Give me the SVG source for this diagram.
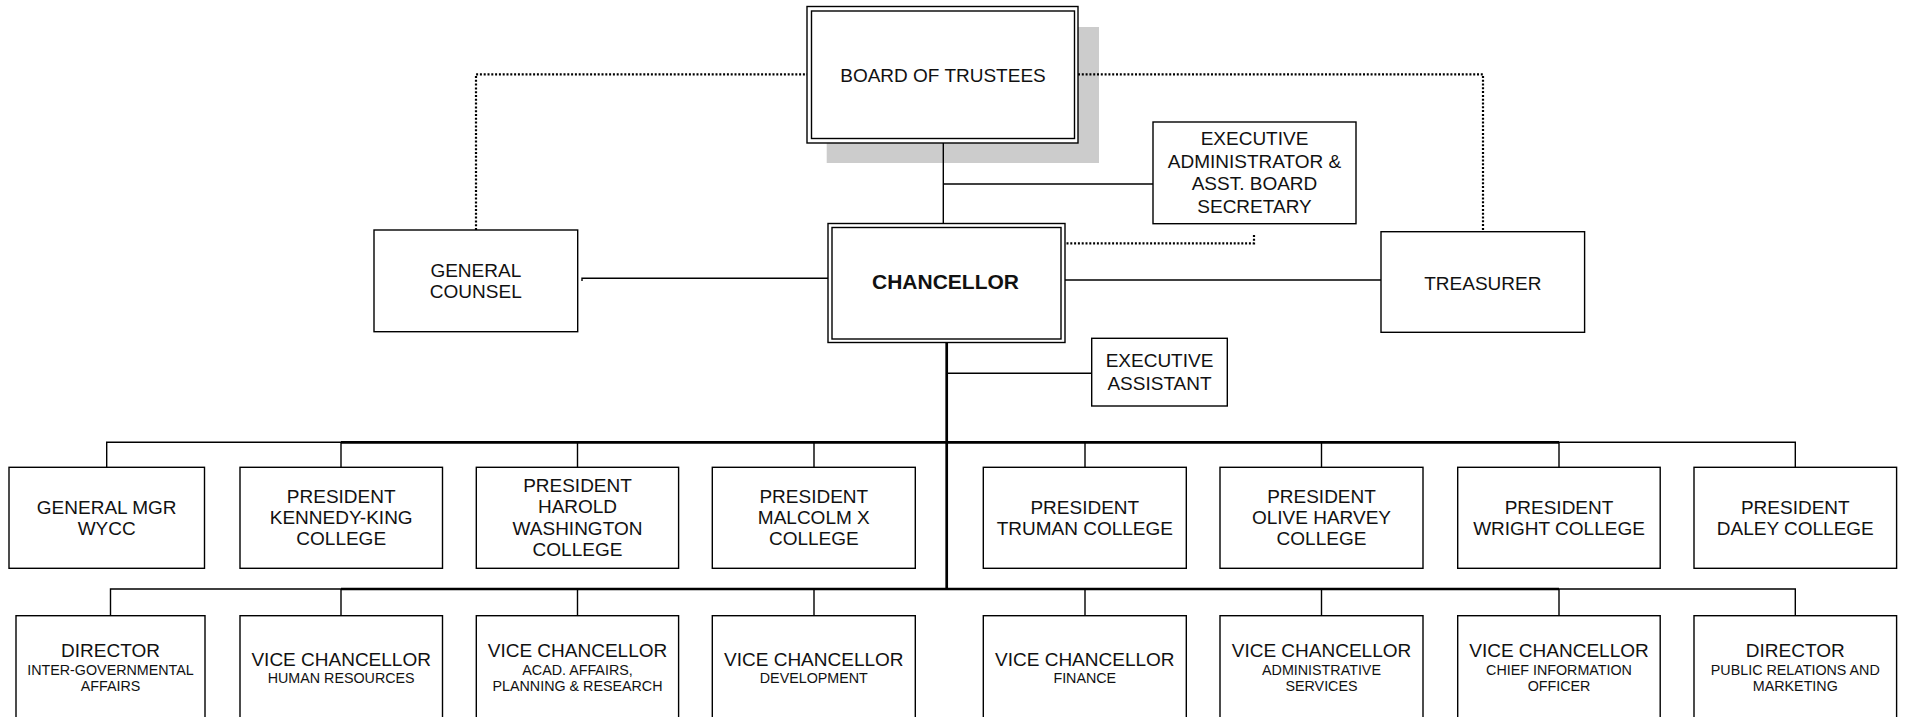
<svg xmlns="http://www.w3.org/2000/svg" width="1905" height="717" viewBox="0 0 1905 717">
<style>
.box{fill:#fff;stroke:#000;stroke-width:1.4}
.t{font-family:"Liberation Sans",Arial,sans-serif;font-size:19px;fill:#111;text-anchor:middle}
.s{font-size:14.3px}
.b{font-weight:bold;font-size:21px}
.c{fill:none;stroke:#000;stroke-width:1.4}
.thick{stroke-width:2.7}
.dot{stroke-width:2.2;stroke-dasharray:2 1.8}
.shadow{fill:#cccccc}
</style>
<rect width="1905" height="717" fill="#fff"/>
<g id="board-shadow">
  <rect class="shadow" x="826.7" y="27" width="272.3" height="136"/>
</g>
<g id="connectors">
  <path class="c dot" d="M476,230 V74.3 H807"/>
  <path class="c dot" d="M1078,74.3 H1483 V231"/>
  <path class="c dot" d="M1254,235 V243.3 H1065"/>
  <path class="c" d="M943.3,138 V223"/>
  <path class="c" d="M943.3,184 H1153"/>
  <path class="c" d="M582,281 V278.3 H828"/>
  <path class="c" d="M1065,280 H1381"/>
  <path class="c thick" d="M946.7,343 V589"/>
  <path class="c" d="M946.7,373.3 H1091.7"/>
  <path class="c" d="M106.7,467.3 V442.3 H1795.3 V467.3"/>
  <path class="c thick" d="M341,442.3 H1559"/>
  <path class="c" d="M341,442.3 V467.3 M577.5,442.3 V467.3 M814,442.3 V467.3 M1085,442.3 V467.3 M1321.5,442.3 V467.3 M1559,442.3 V467.3"/>
  <path class="c" d="M110.5,615.7 V589 H1795.3 V615.7"/>
  <path class="c thick" d="M341,589 H1559"/>
  <path class="c" d="M341,589 V615.7 M577.5,589 V615.7 M814,589 V615.7 M1085,589 V615.7 M1321.5,589 V615.7 M1559,589 V615.7"/>
</g>
<g id="board">
  <rect class="box" x="807" y="6.5" width="271" height="136.5"/>
  <rect class="box" x="811.5" y="11" width="263" height="127.5"/>
  <text class="t" x="943" y="81.7">BOARD OF TRUSTEES</text>
</g>
<g id="chancellor">
  <rect class="box" x="828" y="223.5" width="237" height="119"/>
  <rect class="box" x="832" y="227.5" width="229" height="111.5"/>
  <text class="t b" x="945.5" y="289">CHANCELLOR</text>
</g>
<g id="general-counsel">
  <rect class="box" x="374" y="230" width="203.7" height="101.7"/>
  <text class="t" x="475.8" y="276.7">GENERAL</text>
  <text class="t" x="475.8" y="298.3">COUNSEL</text>
</g>
<g id="exec-admin">
  <rect class="box" x="1153" y="122" width="203" height="101.7"/>
  <text class="t" x="1254.5" y="145">EXECUTIVE</text>
  <text class="t" x="1254.5" y="167.7">ADMINISTRATOR &amp;</text>
  <text class="t" x="1254.5" y="190.3">ASST. BOARD</text>
  <text class="t" x="1254.5" y="212.8">SECRETARY</text>
</g>
<g id="treasurer">
  <rect class="box" x="1381" y="231.7" width="203.6" height="100.6"/>
  <text class="t" x="1482.8" y="290">TREASURER</text>
</g>
<g id="exec-assistant">
  <rect class="box" x="1091.7" y="338.3" width="135.6" height="67.7"/>
  <text class="t" x="1159.5" y="367.3">EXECUTIVE</text>
  <text class="t" x="1159.5" y="390">ASSISTANT</text>
</g>
<g id="wycc">
  <rect class="box" x="9" y="467.3" width="195.5" height="101"/>
  <text class="t" x="106.7" y="513.5">GENERAL MGR</text>
  <text class="t" x="106.7" y="534.5">WYCC</text>
</g>
<g id="kennedy-king">
  <rect class="box" x="240" y="467.3" width="202.5" height="101"/>
  <text class="t" x="341.2" y="502.5">PRESIDENT</text>
  <text class="t" x="341.2" y="523.5">KENNEDY-KING</text>
  <text class="t" x="341.2" y="544.5">COLLEGE</text>
</g>
<g id="harold-washington">
  <rect class="box" x="476.3" y="467.3" width="202.3" height="101"/>
  <text class="t" x="577.5" y="491.5">PRESIDENT</text>
  <text class="t" x="577.5" y="513">HAROLD</text>
  <text class="t" x="577.5" y="534.5">WASHINGTON</text>
  <text class="t" x="577.5" y="556">COLLEGE</text>
</g>
<g id="malcolm-x">
  <rect class="box" x="712.3" y="467.3" width="203" height="101"/>
  <text class="t" x="813.8" y="502.5">PRESIDENT</text>
  <text class="t" x="813.8" y="523.5">MALCOLM X</text>
  <text class="t" x="813.8" y="544.5">COLLEGE</text>
</g>
<g id="truman">
  <rect class="box" x="983.3" y="467.3" width="203" height="101"/>
  <text class="t" x="1084.8" y="513.5">PRESIDENT</text>
  <text class="t" x="1084.8" y="534.5">TRUMAN COLLEGE</text>
</g>
<g id="olive-harvey">
  <rect class="box" x="1220" y="467.3" width="203" height="101"/>
  <text class="t" x="1321.5" y="502.5">PRESIDENT</text>
  <text class="t" x="1321.5" y="523.5">OLIVE HARVEY</text>
  <text class="t" x="1321.5" y="544.5">COLLEGE</text>
</g>
<g id="wright">
  <rect class="box" x="1457.7" y="467.3" width="202.5" height="101"/>
  <text class="t" x="1559" y="513.5">PRESIDENT</text>
  <text class="t" x="1559" y="534.5">WRIGHT COLLEGE</text>
</g>
<g id="daley">
  <rect class="box" x="1694" y="467.3" width="202.6" height="101"/>
  <text class="t" x="1795.3" y="513.5">PRESIDENT</text>
  <text class="t" x="1795.3" y="534.5">DALEY COLLEGE</text>
</g>
<g id="dir-iga">
  <rect class="box" x="16" y="615.7" width="189" height="115"/>
  <text class="t" x="110.5" y="656.7">DIRECTOR</text>
  <text class="t s" x="110.5" y="675">INTER-GOVERNMENTAL</text>
  <text class="t s" x="110.5" y="691">AFFAIRS</text>
</g>
<g id="vc-hr">
  <rect class="box" x="240" y="615.7" width="202.5" height="115"/>
  <text class="t" x="341.2" y="665.7">VICE CHANCELLOR</text>
  <text class="t s" x="341.2" y="683.3">HUMAN RESOURCES</text>
</g>
<g id="vc-acad">
  <rect class="box" x="476.3" y="615.7" width="202.3" height="115"/>
  <text class="t" x="577.5" y="656.7">VICE CHANCELLOR</text>
  <text class="t s" x="577.5" y="675">ACAD. AFFAIRS,</text>
  <text class="t s" x="577.5" y="691">PLANNING &amp; RESEARCH</text>
</g>
<g id="vc-dev">
  <rect class="box" x="712.3" y="615.7" width="203" height="115"/>
  <text class="t" x="813.8" y="665.7">VICE CHANCELLOR</text>
  <text class="t s" x="813.8" y="683.3">DEVELOPMENT</text>
</g>
<g id="vc-finance">
  <rect class="box" x="983.3" y="615.7" width="203" height="115"/>
  <text class="t" x="1084.8" y="665.7">VICE CHANCELLOR</text>
  <text class="t s" x="1084.8" y="683.3">FINANCE</text>
</g>
<g id="vc-admin">
  <rect class="box" x="1220" y="615.7" width="203" height="115"/>
  <text class="t" x="1321.5" y="656.7">VICE CHANCELLOR</text>
  <text class="t s" x="1321.5" y="675">ADMINISTRATIVE</text>
  <text class="t s" x="1321.5" y="691">SERVICES</text>
</g>
<g id="vc-cio">
  <rect class="box" x="1457.7" y="615.7" width="202.5" height="115"/>
  <text class="t" x="1559" y="656.7">VICE CHANCELLOR</text>
  <text class="t s" x="1559" y="675">CHIEF INFORMATION</text>
  <text class="t s" x="1559" y="691">OFFICER</text>
</g>
<g id="dir-pr">
  <rect class="box" x="1694" y="615.7" width="202.6" height="115"/>
  <text class="t" x="1795.3" y="656.7">DIRECTOR</text>
  <text class="t s" x="1795.3" y="675">PUBLIC RELATIONS AND</text>
  <text class="t s" x="1795.3" y="691">MARKETING</text>
</g>
</svg>
